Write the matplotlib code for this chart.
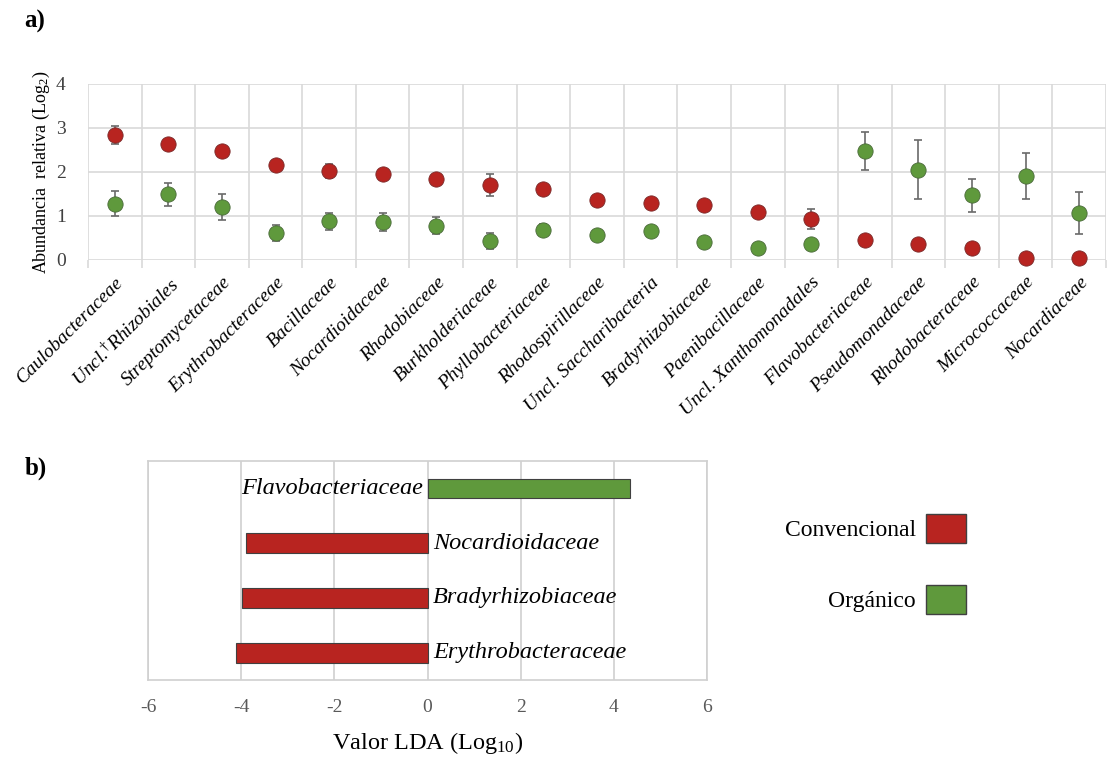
import matplotlib
matplotlib.use("Agg")
import matplotlib.pyplot as plt
import numpy as np
from matplotlib.patches import Patch

plt.rcParams['font.family'] = ['Liberation Serif', 'DejaVu Serif']
plt.rcParams['mathtext.fontset'] = 'custom'
plt.rcParams['mathtext.rm'] = 'Liberation Serif'
plt.rcParams['mathtext.it'] = 'Liberation Serif:italic'
plt.rcParams['axes.unicode_minus'] = False

# ---- Data panel a) ----
families = ['Caulobacteraceae', r'Uncl.$^{\dagger}$Rhizobiales', 'Streptomycetaceae',
            'Erythrobacteraceae', 'Bacillaceae', 'Nocardioidaceae', 'Rhodobiaceae',
            'Burkholderiaceae', 'Phyllobacteriaceae', 'Rhodospirillaceae',
            'Uncl. Saccharibacteria', 'Bradyrhizobiaceae', 'Paenibacillaceae',
            'Uncl. Xanthomonadales', 'Flavobacteriaceae', 'Pseudomonadaceae',
            'Rhodobacteraceae', 'Micrococcaceae', 'Nocardiaceae']
conv_vals = [2.84, 2.64, 2.47, 2.16, 2.02, 1.96, 1.85, 1.71, 1.61, 1.36,
             1.30, 1.24, 1.09, 0.94, 0.46, 0.37, 0.28, 0.04, 0.04]
conv_err = [0.20, 0.05, 0.10, 0.07, 0.15, 0.07, 0.08, 0.25, 0.07, 0.07,
            0.07, 0.06, 0.06, 0.23, 0.06, 0.05, 0.05, 0.04, 0.04]
org_vals = [1.28, 1.49, 1.20, 0.61, 0.88, 0.86, 0.78, 0.43, 0.69, 0.57,
            0.66, 0.40, 0.27, 0.37, 2.48, 2.05, 1.47, 1.91, 1.07]
org_err = [0.28, 0.27, 0.30, 0.18, 0.19, 0.20, 0.20, 0.19, 0.13, 0.10,
           0.12, 0.06, 0.06, 0.07, 0.43, 0.67, 0.38, 0.52, 0.47]

# ---- Data panel b) ----
lda_families = ['Erythrobacteraceae', 'Bradyrhizobiaceae', 'Nocardioidaceae', 'Flavobacteriaceae']
lda_vals = [-4.12, -3.98, -3.89, 4.35]
lda_groups = ['Convencional', 'Convencional', 'Convencional', 'Orgánico']

RED = '#B82420'
GREEN = '#5F993C'
group_colors = {'Convencional': RED, 'Orgánico': GREEN}

fig = plt.figure(figsize=(11.07, 7.64), dpi=100)

# ---------------- panel a ----------------
ax = fig.add_axes([0.0795, 0.6597, 0.9196, 0.2304])
x = np.arange(len(families))
ax.errorbar(x, conv_vals, yerr=conv_err, fmt='none', ecolor='#6a6a6a', elinewidth=1.2,
            capsize=3, capthick=1.2, zorder=3, clip_on=False)
ax.plot(x, conv_vals, 'o', ms=11, mfc=RED, mec='#7a2a2a', mew=0.6, zorder=4, clip_on=False)
ax.errorbar(x, org_vals, yerr=org_err, fmt='none', ecolor='#6a6a6a', elinewidth=1.2,
            capsize=3, capthick=1.2, zorder=3, clip_on=False)
ax.plot(x, org_vals, 'o', ms=11, mfc=GREEN, mec='#4a6a3a', mew=0.6, zorder=4, clip_on=False)

ax.set_xlim(-0.5, len(families) - 0.5)
ax.set_ylim(0, 4)
ax.set_yticks([0, 1, 2, 3, 4])
ax.set_xticks(x)
ax.set_xticklabels(families, rotation=45, ha='right', rotation_mode='anchor',
                   fontsize=14, style='italic')
ax.set_xticks(np.arange(-0.5, len(families)), minor=True)
ax.tick_params(axis='x', which='major', length=0, pad=10)
ax.tick_params(axis='x', which='minor', length=6, color='#d9d9d9', width=1.2)
ax.tick_params(axis='y', length=0, pad=16, labelsize=14, labelcolor='#404040')
ax.grid(False)
ax.yaxis.grid(True, color='#d9d9d9', lw=1.2)
ax.xaxis.grid(True, which='minor', color='#d9d9d9', lw=1.2)
ax.set_axisbelow(True)
for s in ax.spines.values():
    s.set_visible(False)
ax.set_ylabel(r'Abundancia  relativa (Log$_2$)', fontsize=13, labelpad=3)

fig.text(0.022, 0.972, 'a)', fontsize=18, fontweight='bold', va='center', ha='left')
fig.text(0.022, 0.387, 'b)', fontsize=18, fontweight='bold', va='center', ha='left')

# ---------------- panel b ----------------
bx = fig.add_axes([0.1337, 0.1099, 0.505, 0.2866])
yb = np.arange(len(lda_families))
bx.barh(yb, lda_vals, height=0.36, color=[group_colors[g] for g in lda_groups],
        edgecolor='#404040', linewidth=0.8, zorder=3)
for yi, v, name in zip(yb, lda_vals, lda_families):
    if v > 0:
        bx.text(-0.1, yi, name, ha='right', va='center', fontsize=17.5, style='italic', zorder=4)
    else:
        bx.text(0.12, yi, name, ha='left', va='center', fontsize=17.5, style='italic', zorder=4)
bx.set_xlim(-6, 6)
bx.set_ylim(-0.5, len(lda_families) - 0.5)
bx.set_xticks([-6, -4, -2, 0, 2, 4, 6])
bx.set_yticks([])
bx.tick_params(axis='x', length=0, pad=14, labelsize=14, labelcolor='#595959')
bx.xaxis.grid(True, color='#d0d0d0', lw=1.2)
bx.set_axisbelow(True)
for s in bx.spines.values():
    s.set_color('#d0d0d0')
    s.set_linewidth(1.2)
bx.set_xlabel(r'Valor LDA (Log$_{10}$)', fontsize=17.5, labelpad=10)

handles = [Patch(facecolor=RED, edgecolor='#404040', label='Convencional'),
           Patch(facecolor=GREEN, edgecolor='#404040', label='Orgánico')]
fig.legend(handles=handles, loc='upper right', bbox_to_anchor=(966 / 1107, 1 - 514 / 764),
           frameon=False, markerfirst=False, fontsize=17, handlelength=1.7, handleheight=1.5,
           handletextpad=0.42, labelspacing=1.8, borderpad=0, borderaxespad=0)

fig.savefig('out.png', dpi=100)
